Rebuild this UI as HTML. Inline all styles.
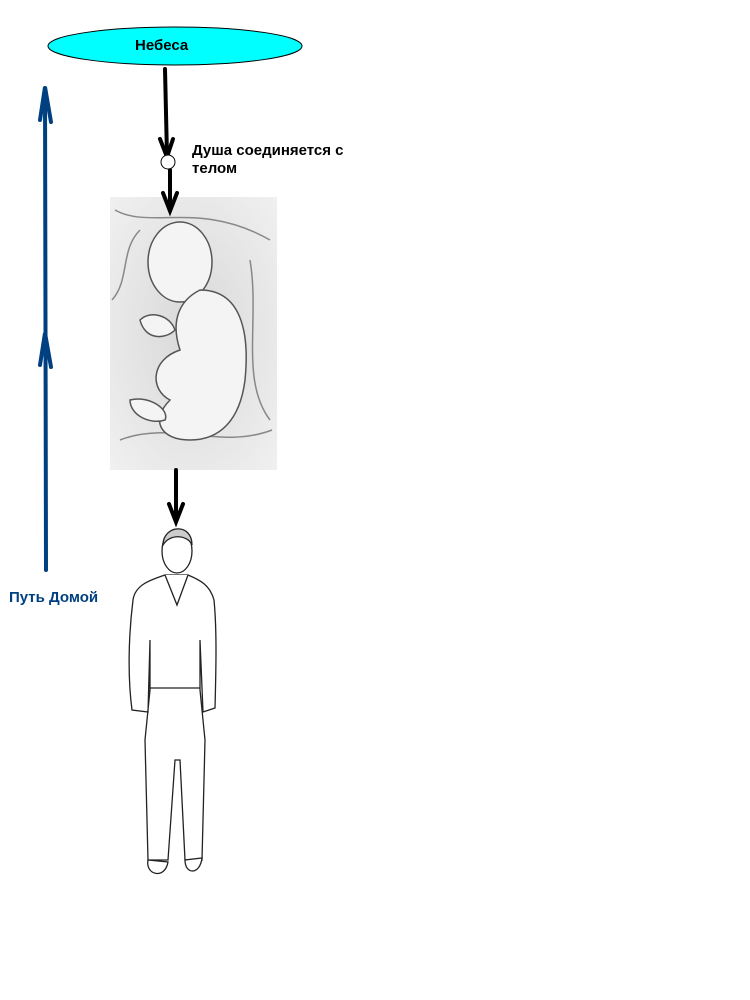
<!DOCTYPE html>
<html><head><meta charset="utf-8"><style>
html,body{margin:0;padding:0;background:#fff;}
body{width:750px;height:1000px;position:relative;overflow:hidden;font-family:"Liberation Sans",sans-serif;}
.t{position:absolute;font-weight:bold;font-size:15px;}
</style></head><body>
<svg width="750" height="1000" style="position:absolute;left:0;top:0">
<defs>
<radialGradient id="g" cx="50%" cy="50%" r="70%"><stop offset="0" stop-color="#d8d8d8"/><stop offset="1" stop-color="#f0f0f0"/></radialGradient>
</defs>
<rect x="110" y="197" width="167" height="273" fill="url(#g)"/>
<g stroke="#888" stroke-width="1.5" fill="none">
<path d="M115,210 C150,230 200,200 270,240"/><path d="M112,300 C130,280 120,250 140,230"/>
<path d="M120,440 C170,420 220,450 272,430"/><path d="M250,260 C260,320 240,380 270,420"/>
</g>
<g stroke="#555" stroke-width="1.5" fill="#f4f4f4">
<ellipse cx="180" cy="262" rx="32" ry="40"/>
<path d="M200,290 C240,290 250,330 245,380 C240,420 220,440 190,440 C160,440 150,420 170,400 C150,390 150,360 180,350 C170,320 180,300 200,290Z"/>
<path d="M140,320 C150,310 170,315 175,330 C165,340 145,340 140,320Z"/>
<path d="M130,400 C150,395 170,410 165,420 C150,425 130,415 130,400Z"/>
</g>
<ellipse cx="175" cy="46" rx="127" ry="19" fill="#00ffff" stroke="#000" stroke-width="1"/>
<g stroke="#000" stroke-width="4" fill="none" stroke-linecap="round">
<line x1="165" y1="69" x2="167" y2="156"/>
<polyline points="160,139 167,157 173,139"/>
<line x1="170" y1="170" x2="170" y2="210"/>
<polyline points="163,193 170,211 177,193"/>
<line x1="176" y1="470" x2="176" y2="521"/>
<polyline points="169,504 176,522 183,504"/>
</g>
<circle cx="168" cy="162" r="7" fill="#fff" stroke="#000" stroke-width="1"/>
<g stroke="#004080" stroke-width="4" fill="none" stroke-linecap="round">
<line x1="46" y1="570" x2="45" y2="88"/>
<polyline points="40,120 45,87 51,122"/>
<polyline points="40,365 45,333 51,367"/>
</g>
<g stroke="#222" stroke-width="1.3" fill="#fff">
<path d="M165,575 C150,580 135,585 133,600 C128,640 128,680 132,710 L148,712 L150,640 L150,690 L145,740 L148,860 L168,860 L175,760 L180,760 L185,860 L202,860 L205,740 L200,690 L200,640 L203,712 L215,708 C216,670 217,630 214,600 C210,585 200,580 188,575 Z"/>
<ellipse cx="177" cy="551" rx="15" ry="22"/>
<path d="M163,545 C163,525 192,522 192,545 C188,535 170,533 163,545Z" fill="#ccc"/>
<path d="M165,575 L177,605 L188,575"/>
<line x1="150" y1="688" x2="200" y2="688"/>
<path d="M148,860 C145,875 165,880 168,862 Z M185,860 C185,875 200,875 202,858Z"/>
</g>
</svg>
<div class="t" style="left:135px;top:37px;">Небеса</div>
<div class="t" style="left:192px;top:142px;line-height:18px;">Душа соединяется с<br>телом</div>
<div class="t" style="left:9px;top:589px;color:#004080;">Путь Домой</div>
</body></html>
